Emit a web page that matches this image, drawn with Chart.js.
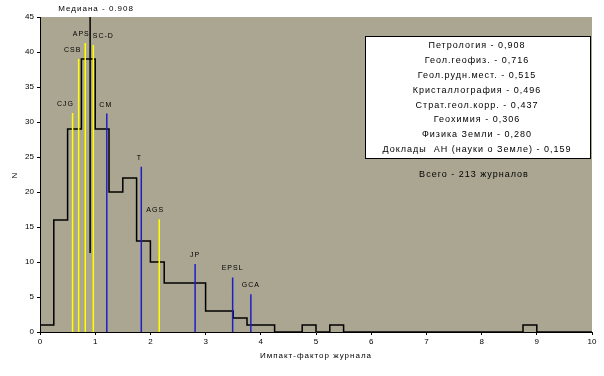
<!DOCTYPE html>
<html>
<head>
<meta charset="utf-8">
<script src="https://cdn.jsdelivr.net/npm/chart.js@4.4.1/dist/chart.umd.min.js"></script>
<style>
  body { margin: 0; background: #ffffff; }
  canvas { display: block; }
</style>
</head>
<body>
<canvas id="chart" width="604" height="376"></canvas>
<script>
// Histogram of journal impact factors, bins of 0.25
const binEdges = [0, 0.25, 0.5, 0.75, 1, 1.25, 1.5, 1.75, 2, 2.25, 2.5, 2.75, 3, 3.25, 3.5, 3.75,
                  4, 4.25, 4.5, 4.75, 5, 5.25, 5.5, 5.75, 6, 6.25, 6.5, 6.75, 7, 7.25, 7.5, 7.75,
                  8, 8.25, 8.5, 8.75, 9, 9.25, 9.5, 9.75, 10];
const binCounts = [1, 16, 29, 39, 29, 20, 22, 13, 10, 7, 7, 7, 3, 3, 2, 1,
                   1, 0, 0, 1, 0, 1, 0, 0, 0, 0, 0, 0, 0, 0, 0, 0,
                   0, 0, 0, 1, 0, 0, 0, 0];

// Marked journals (impact factor, line height, group)
const journalNames = ['CJG', 'CSB', 'APS', 'SC-D', 'CM', 'T', 'AGS', 'JP', 'EPSL', 'GCA'];
const journalIF = [0.59, 0.70, 0.82, 0.966, 1.21, 1.835, 2.16, 2.81, 3.49, 3.82];
const journalHeight = [31.3, 39, 41.3, 41, 31.2, 23.6, 16.1, 9.7, 7.8, 5.4];
const journalGroup = ['y', 'y', 'y', 'y', 'b', 'b', 'y', 'b', 'b', 'b'];
const labelShift = [-7, -6, -4, 10, -1, -2, -4, 0, 0, 0];

const medianIF = 0.908;
const medianLow = 11.3;
const medianText = 'Медиана - 0.908';

const boxLines = [
  'Петрология - 0,908',
  'Геол.геофиз. - 0,716',
  'Геол.рудн.мест. - 0,515',
  'Кристаллография - 0,496',
  'Страт.геол.корр. - 0,437',
  'Геохимия - 0,306',
  'Физика Земли - 0,280',
  'Доклады  АН (науки о Земле) - 0,159'
];
const totalText = 'Всего - 213 журналов';
const xTitle = 'Импакт-фактор журнала';
const yTitle = 'N';

const xTicks = [0, 1, 2, 3, 4, 5, 6, 7, 8, 9, 10];
const yTicks = [0, 5, 10, 15, 20, 25, 30, 35, 40, 45];

const FONT = '"Liberation Sans", Arial, sans-serif';
const PLOT_BG = '#aaa691';
const YELLOW = '#ffff00';
const BLUE = '#2020c0';

// step outline: value of each bin starts at its left edge, closes at 0
const histData = binEdges.map((x, i) => ({ x: x, y: i < binCounts.length ? binCounts[i] : 0 }));

function journalLines(group) {
  const pts = [];
  journalIF.forEach((x, i) => {
    if (journalGroup[i] !== group) return;
    pts.push({ x: x, y: 0 }, { x: x, y: journalHeight[i] }, { x: x, y: null });
  });
  return pts;
}

const plotBackground = {
  id: 'plotBackground',
  beforeDraw(chart) {
    const { ctx, chartArea: a } = chart;
    ctx.save();
    ctx.fillStyle = PLOT_BG;
    ctx.fillRect(a.left, a.top, a.right - a.left, a.bottom - a.top);
    ctx.restore();
  }
};

const annotations = {
  id: 'annotations',
  afterDraw(chart) {
    const { ctx, chartArea: a } = chart;
    const xs = chart.scales.x, ys = chart.scales.y;
    ctx.save();
    ctx.fillStyle = '#000';
    ctx.textBaseline = 'middle';
    ctx.textAlign = 'center';
    ctx.letterSpacing = '1px';

    // journal labels
    ctx.font = '7px ' + FONT;
    journalNames.forEach((name, i) => {
      const px = xs.getPixelForValue(journalIF[i]) + labelShift[i];
      const py = ys.getPixelForValue(journalHeight[i]) - 9;
      ctx.fillText(name, px, py);
    });

    // median label
    ctx.font = '8px ' + FONT;
    ctx.fillText(medianText, xs.getPixelForValue(medianIF) + 6, 9);

    // axis titles
    ctx.fillText(xTitle, (a.left + a.right) / 2, 356);
    ctx.save();
    ctx.translate(15, 175);
    ctx.rotate(-Math.PI / 2);
    ctx.fillText(yTitle, 0, 0);
    ctx.restore();

    // info box
    ctx.fillStyle = '#fff';
    ctx.strokeStyle = '#000';
    ctx.lineWidth = 1;
    ctx.fillRect(365.5, 36.5, 225, 122);
    ctx.strokeRect(365.5, 36.5, 225, 122);
    ctx.fillStyle = '#000';
    ctx.font = '9px ' + FONT;
    boxLines.forEach((t, i) => {
      ctx.fillText(t, 477, 46 + i * 14.8);
    });
    ctx.fillText(totalText, 474, 175);
    ctx.restore();
  }
};

new Chart(document.getElementById('chart'), {
  type: 'line',
  data: {
    datasets: [
      {
        label: 'yellow',
        data: journalLines('y'),
        borderColor: YELLOW,
        borderWidth: 1.5,
        pointRadius: 0,
        spanGaps: false
      },
      {
        label: 'blue',
        data: journalLines('b'),
        borderColor: BLUE,
        borderWidth: 1.5,
        pointRadius: 0,
        spanGaps: false
      },
      {
        label: 'hist',
        data: histData,
        stepped: 'before',
        borderColor: '#000',
        borderWidth: 1.5,
        pointRadius: 0
      },
      {
        label: 'median',
        data: [{ x: medianIF, y: medianLow }, { x: medianIF, y: 45 }],
        borderColor: '#000',
        borderWidth: 1.5,
        pointRadius: 0
      }
    ]
  },
  options: {
    responsive: false,
    animation: false,
    devicePixelRatio: 1,
    layout: { padding: { top: 17, right: 12, left: 0, bottom: 0 } },
    plugins: {
      legend: { display: false },
      tooltip: { enabled: false }
    },
    scales: {
      x: {
        type: 'linear',
        min: 0,
        max: 10,
        afterFit(scale) { scale.height = 44; },
        afterBuildTicks(scale) { scale.ticks = xTicks.map(v => ({ value: v })); },
        ticks: { color: '#000', font: { family: FONT, size: 8 }, padding: 2, maxRotation: 0 },
        grid: { drawOnChartArea: false, tickLength: 3, color: '#000' },
        border: { color: '#000', width: 1 }
      },
      y: {
        type: 'linear',
        min: 0,
        max: 45,
        afterFit(scale) { scale.width = 40; },
        afterBuildTicks(scale) { scale.ticks = yTicks.map(v => ({ value: v })); },
        ticks: { color: '#000', font: { family: FONT, size: 8 }, padding: 3 },
        grid: { drawOnChartArea: false, tickLength: 3, color: '#000' },
        border: { color: '#000', width: 1 }
      }
    }
  },
  plugins: [plotBackground, annotations]
});
</script>
</body>
</html>
